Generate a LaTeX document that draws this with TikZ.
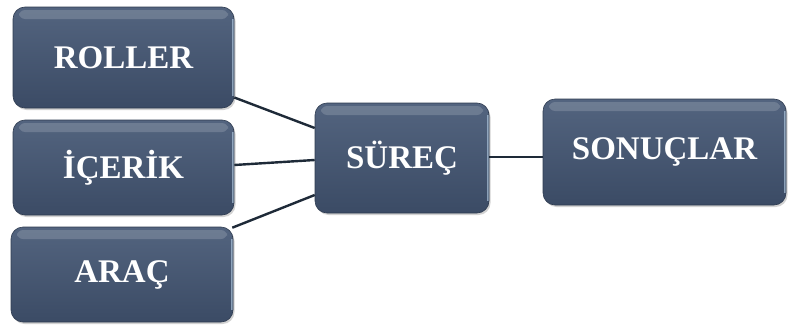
\documentclass[tikz,border=0pt]{standalone}
\usepackage{fontspec}
\setmainfont{Liberation Serif}
\usetikzlibrary{shadows,calc}
\definecolor{boxtop}{HTML}{53647F}
\definecolor{boxbot}{HTML}{3B4B65}
\definecolor{edgeblue}{HTML}{BFD8EE}
\definecolor{linecol}{HTML}{1E2A38}
\tikzset{
  box/.style={rounded corners=12pt, top color=boxtop, bottom color=boxbot,
    draw=boxbot!80!black, line width=0.6pt,
    drop shadow={shadow xshift=1.5pt, shadow yshift=-2pt, fill=black!35, opacity=0.5},
    text=white, font=\bfseries\fontsize{33}{33}\selectfont, align=center,
    inner sep=0pt,
    path picture={
      \fill[white, opacity=0.16, rounded corners=6pt]
        ($(path picture bounding box.north west)+(6pt,-3pt)$) rectangle
        ($(path picture bounding box.north east)+(-6pt,-12pt)$);
      \draw[edgeblue, opacity=0.6, line width=2.5pt]
        ($(path picture bounding box.north east)+(-1pt,-12pt)$) --
        ($(path picture bounding box.south east)+(-1pt,12pt)$);
    }},
  conn/.style={draw=linecol, line width=2.4pt}
}
\begin{document}
\begin{tikzpicture}[x=1pt,y=-1pt]
\useasboundingbox[fill=white] (0,0) rectangle (789,324);
\node[box, minimum width=221pt, minimum height=101pt] (roller) at (123.5,57.5) {ROLLER};
\node[box, minimum width=221pt, minimum height=95pt] (icerik) at (123.5,167.5) {İÇERİK};
\node[box, minimum width=222pt, minimum height=95pt] (arac) at (122,274.5) {ARAÇ};
\node[box, minimum width=174pt, minimum height=110pt] (surec) at (402,158) {SÜREÇ};
\node[box, minimum width=243pt, minimum height=106pt] (sonuc) at (664.5,152) {SONUÇLAR};
\draw[conn] ([yshift=-40pt]roller.east) -- ([yshift=30pt]surec.west);
\draw[conn] ([yshift=2.5pt]icerik.east) -- ([yshift=-2pt]surec.west);
\draw[conn] ([xshift=-1pt,yshift=-1pt]arac.north east) -- ([yshift=-37pt]surec.west);
\draw[conn] ([yshift=1pt]surec.east) -- ([yshift=1pt]surec.east -| sonuc.west);
\end{tikzpicture}
\end{document}
